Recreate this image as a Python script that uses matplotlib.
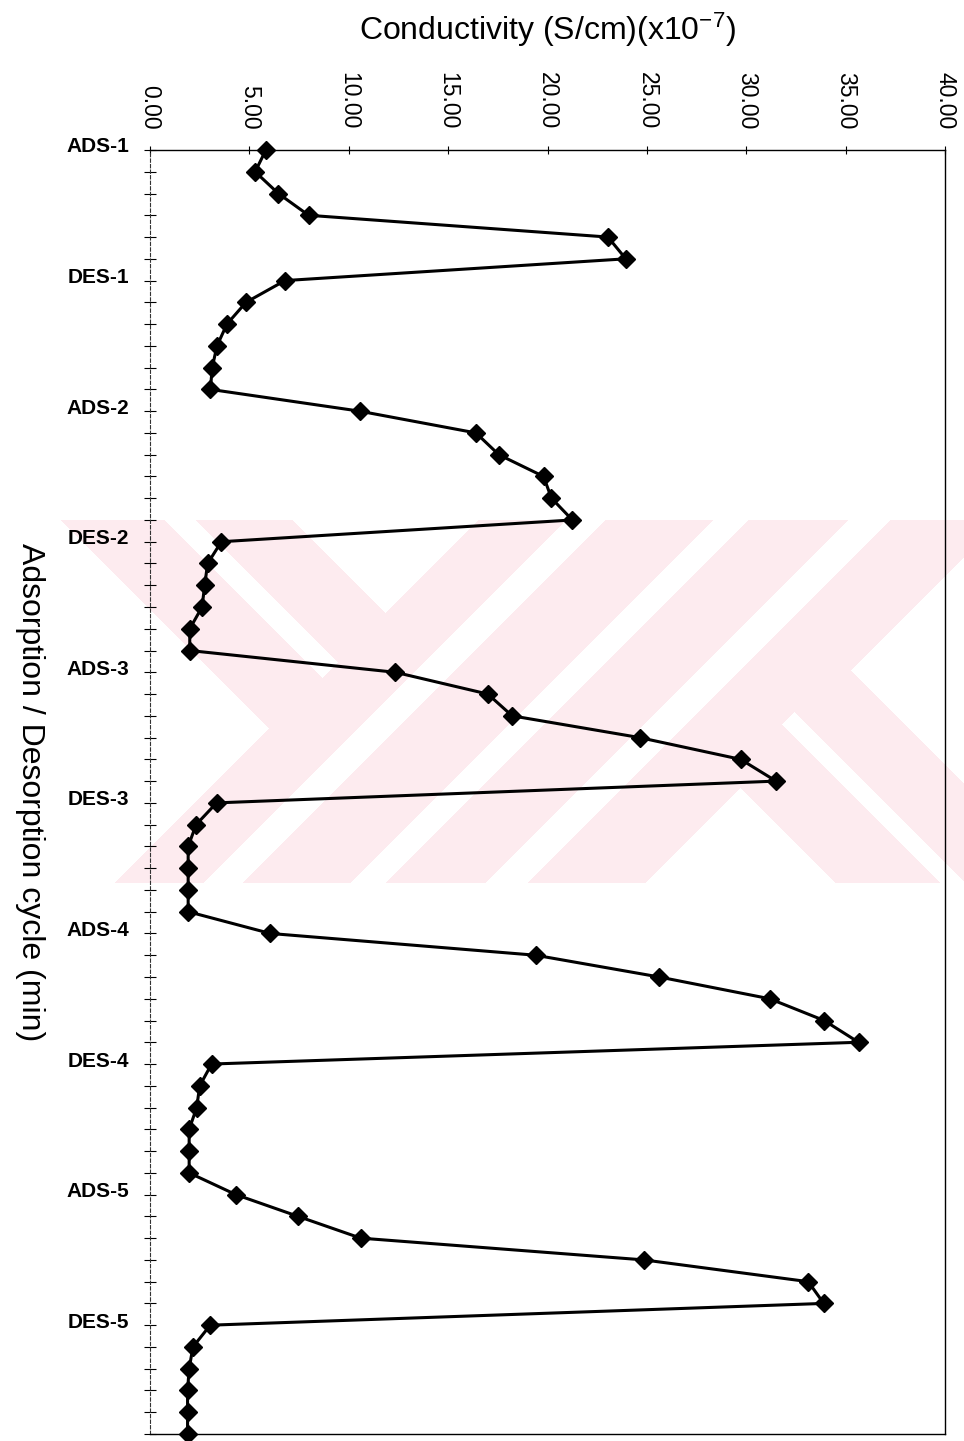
import numpy as np
import matplotlib
matplotlib.use('Agg')
import matplotlib.pyplot as plt
import matplotlib.transforms as mtransforms

plt.rcParams['font.family'] = ['Liberation Sans', 'DejaVu Sans']
plt.rcParams['mathtext.default'] = 'regular'

# conductivity (x10^-7 S/cm), one reading per step, 6 steps per half cycle
conductivity = [5.83, 5.29, 6.46, 7.98, 23.04, 23.94,
                6.79, 4.83, 3.87, 3.37, 3.13, 3.04,
                10.55, 16.4, 17.55, 19.8, 20.2, 21.25,
                3.59, 2.90, 2.75, 2.62, 2.00, 2.00,
                12.35, 17.0, 18.22, 24.64, 29.72, 31.5,
                3.35, 2.32, 1.92, 1.92, 1.92, 1.92,
                6.05, 19.4, 25.62, 31.18, 33.92, 35.65,
                3.1, 2.5, 2.35, 1.97, 1.97, 1.97,
                4.32, 7.45, 10.6, 24.85, 33.12, 33.9,
                3.03, 2.16, 1.97, 1.89, 1.89, 1.89]
step = np.arange(len(conductivity))

cycle_labels = ['ADS-1', 'DES-1', 'ADS-2', 'DES-2', 'ADS-3',
                'DES-3', 'ADS-4', 'DES-4', 'ADS-5', 'DES-5']
cycle_pos = step[::6]
x_ticks = [0, 5, 10, 15, 20, 25, 30, 35, 40]


def watermark():
    # faint pink thesis-centre stamp behind the plot (pixel grid)
    xs, ys = np.meshgrid(np.arange(60, 964), np.arange(520, 883))
    s = xs + ys
    d = xs - ys
    white = (d < -459) & (s < 997)
    white |= (d > -228) & (s < 998)
    white |= (s > 1527) & (d < -47)
    white |= (s > 1520) & (d > 180)
    white |= (np.abs(d + 340) < 16) & (s < 1000)
    white |= (np.abs(d - 70) < 13) & (s > 1505)
    white |= ((s > 1085) & (s < 1125)) | ((s > 1232) & (s < 1268)) | ((s > 1367) & (s < 1410))
    img = np.zeros(xs.shape + (4,))
    img[..., 0] = 253 / 255
    img[..., 1] = 235 / 255
    img[..., 2] = 239 / 255
    img[..., 3] = np.where(white, 0.0, 1.0)
    return img


fig = plt.figure(figsize=(9.64, 14.41), dpi=100)
fig.figimage(watermark(), xo=60, yo=1441 - 883, origin='upper', zorder=-1)

ax = fig.add_axes([150 / 964, 1 - 1434 / 1441, 795 / 964, 1284 / 1441])
ax.set_facecolor('none')

ax.plot(conductivity, step, color='black', lw=2.2, marker='D', ms=9.5,
        mew=1, clip_on=False, zorder=3)

ax.set_xlim(0, 40)
ax.set_ylim(step[-1], 0)

ax.xaxis.tick_top()
ax.set_xticks(x_ticks)
ax.set_xticklabels([f'{v:.2f}' for v in x_ticks], rotation=270)
ax.tick_params(axis='x', direction='inout', length=6, width=0.8, pad=12,
               labelsize=16.5, top=True, bottom=False)

ax.set_yticks(cycle_pos)
ax.set_yticklabels(cycle_labels, fontweight='bold')
ax.set_yticks(step, minor=True)
ax.tick_params(axis='y', which='both', direction='inout', length=8,
               width=0.8, pad=11, labelsize=15)

lift = mtransforms.ScaledTranslation(0, 5 / 100, fig.dpi_scale_trans)
for lab in ax.get_yticklabels():
    lab.set_transform(lab.get_transform() + lift)

ax.spines['left'].set_linestyle((0, (3, 2)))
ax.spines['left'].set_linewidth(0.8)
ax.spines['left'].set_color('#333333')
for side in ['top', 'right', 'bottom']:
    ax.spines[side].set_linewidth(1.0)

ax.set_ylabel('Adsorption / Desorption cycle (min)', fontsize=23,
              rotation=270, va='center', ha='center')
ax.yaxis.set_label_coords(-0.151, 0.5)

fig.text(548 / 964, 1 - 30 / 1441, 'Conductivity (S/cm)(x10$^{-7}$)',
         fontsize=23, ha='center', va='center')

fig.savefig('out.png', dpi=100)
